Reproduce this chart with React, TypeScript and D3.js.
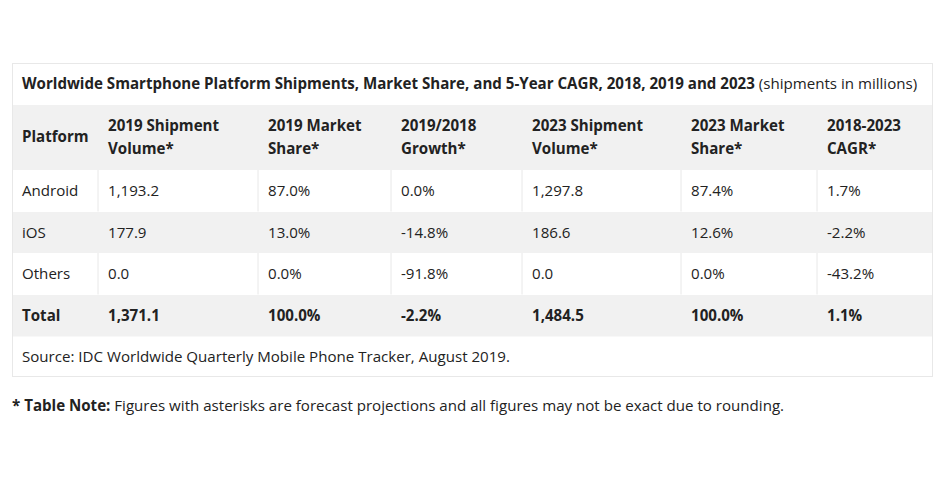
import React from "react";
import * as d3 from "d3";

const title = "Worldwide Smartphone Platform Shipments, Market Share, and 5-Year CAGR, 2018, 2019 and 2023";
const titleSuffix = " (shipments in millions)";
const headers = [
  ["Platform"],
  ["2019 Shipment", "Volume*"],
  ["2019 Market", "Share*"],
  ["2019/2018", "Growth*"],
  ["2023 Shipment", "Volume*"],
  ["2023 Market", "Share*"],
  ["2018-2023", "CAGR*"],
];
const platforms = ["Android", "iOS", "Others", "Total"];
const shipments2019 = [1193.2, 177.9, 0.0, 1371.1];
const share2019 = [87.0, 13.0, 0.0, 100.0];
const growth = [0.0, -14.8, -91.8, -2.2];
const shipments2023 = [1297.8, 186.6, 0.0, 1484.5];
const share2023 = [87.4, 12.6, 0.0, 100.0];
const cagr = [1.7, -2.2, -43.2, 1.1];
const source = "Source: IDC Worldwide Quarterly Mobile Phone Tracker, August 2019.";
const noteBold = "* Table Note:";
const noteText = " Figures with asterisks are forecast projections and all figures may not be exact due to rounding.";

const W = 940, H = 482;
const colEdges = [12, 98, 258, 391, 522, 681, 817, 933];
const FONT = "'Open Sans', sans-serif";
const FS = 15.1;
const GRAY = "#f1f1f1";
const BORDER = "#e8e8e8";
const TEXT = "#222";

export default function App() {
  const locale = d3.formatLocale({ decimal: ".", thousands: ",", grouping: [3], currency: ["", ""], minus: "-" });
  const fmtNum = locale.format(",.1f");
  const fmtPct = (v: number) => locale.format(".1f")(v) + "%";
  const rows = platforms.map((p, i) => [
    p,
    fmtNum(shipments2019[i]),
    fmtPct(share2019[i]),
    fmtPct(growth[i]),
    fmtNum(shipments2023[i]),
    fmtPct(share2023[i]),
    fmtPct(cagr[i]),
  ]);
  const rowKeys = ["title", "header", ...platforms, "source"];
  const y = d3.scaleOrdinal<string, number>().domain(rowKeys).range([63, 105, 170, 212, 253, 295, 337]);
  const rowH = (k: string) => (k === "header" ? 65 : k === "title" ? 42 : k === "source" ? 40 : 41.5);
  const tableBottom = 377;
  const left = colEdges[0], right = colEdges[colEdges.length - 1];

  return (
    <div style={{ position: "absolute", left: 0, top: 0 }}>
      <svg width={W} height={H} style={{ display: "block", fontFamily: FONT }}>
        <rect x={0} y={0} width={W} height={H} fill="#fff" />
        {rowKeys.map((k) => {
          const gray = k === "header" || k === "iOS" || k === "Total";
          return <rect key={k} x={left} y={y(k)} width={right - left} height={rowH(k)} fill={gray ? GRAY : "#fff"} />;
        })}
        {["Android", "Others"].map((k) =>
          colEdges.slice(1, -1).map((cx) => (
            <line key={k + cx} x1={cx} x2={cx} y1={y(k)} y2={y(k) + rowH(k)} stroke={BORDER} strokeWidth={1} />
          ))
        )}
        <rect x={left + 0.5} y={63.5} width={right - left - 1} height={tableBottom - 63 - 1} fill="none" stroke={BORDER} strokeWidth={1} />

        <text x={22} y={y("title") + 26} fontSize={FS} fill={TEXT}>
          <tspan fontWeight={700}>{title}</tspan>
          <tspan fontWeight={400}>{titleSuffix}</tspan>
        </text>

        {headers.map((lines, c) => {
          const x = colEdges[c] + 10;
          const yy = lines.length === 1 ? [y("header") + 37] : [y("header") + 25.5, y("header") + 48.5];
          return lines.map((ln, j) => (
            <text key={c + "-" + j} x={x} y={yy[j]} fontSize={FS} fontWeight={700} fill={TEXT}>
              {ln}
            </text>
          ));
        })}

        {rows.map((r, i) =>
          r.map((cell, c) => (
            <text
              key={i + "-" + c}
              x={colEdges[c] + 10}
              y={(y(platforms[i]) as number) + 25.5}
              fontSize={FS}
              fontWeight={platforms[i] === "Total" ? 700 : 400}
              fill={TEXT}
            >
              {cell}
            </text>
          ))
        )}

        <text x={22} y={y("source") + 24.5} fontSize={FS} fill={TEXT}>
          {source}
        </text>

        <text x={12} y={410.5} fontSize={FS} fill={TEXT}>
          <tspan fontWeight={700}>{noteBold}</tspan>
          <tspan>{noteText}</tspan>
        </text>
      </svg>
    </div>
  );
}
